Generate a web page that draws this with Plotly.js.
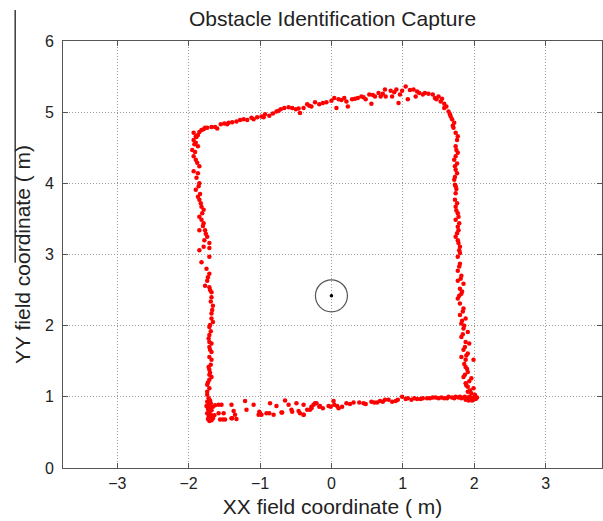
<!DOCTYPE html>
<html>
<head>
<meta charset="utf-8">
<script src="https://cdn.plot.ly/plotly-3.0.1.min.js"></script>
<style>html,body{margin:0;padding:0;background:#fff;}#chart{width:603px;height:521px;}</style>
</head>
<body>
<div id="chart"></div>
<script>
// ---- Data (metres) ----
const topX = [-1.93,-1.90,-1.87,-1.85,-1.82,-1.79,-1.77,-1.74,-1.68,-1.63,-1.55,-1.50,-1.44,-1.39,-1.33,-1.28,-1.23,-1.12,-1.09,-1.04,-0.98,-0.93,-0.87,-0.82,-0.77,-0.71,-0.66,-0.60,-0.55,-0.50,-0.44,-0.39,-0.34,-0.28,-0.23,-0.17,-0.12,-0.07,0.04,0.07,0.10,0.18,0.21,0.23,0.29,0.37,0.42,0.48,0.53,0.56,0.61,0.66,0.69,0.75,0.76,0.83,0.85,0.91,0.94,0.96,0.99,1.04,1.07,1.15,1.18,1.23,1.28,1.31,1.42,1.45,1.47,1.53,1.58,1.58,1.61,
  -1.60,-1.46,-1.18,-0.95,-0.74,-0.46,-0.31,0.00,0.14,0.33,0.45,0.58,0.72,0.88,1.10,1.20,1.36,1.50,1.55];
const topY = [4.71,4.66,4.68,4.72,4.75,4.76,4.78,4.78,4.79,4.79,4.83,4.84,4.85,4.86,4.87,4.89,4.90,4.92,4.90,4.93,4.94,4.97,4.95,4.98,5.01,5.04,5.06,5.07,5.06,5.04,4.99,5.06,5.11,5.08,5.14,5.11,5.13,5.14,5.20,5.06,5.18,5.20,5.15,5.08,5.18,5.20,5.22,5.18,5.25,5.12,5.22,5.27,5.22,5.32,5.22,5.30,5.22,5.32,5.13,5.25,5.30,5.36,5.18,5.32,5.22,5.27,5.25,5.27,5.25,5.20,5.18,5.15,5.12,5.06,5.08,
  4.77,4.83,4.89,4.93,5.02,5.05,5.09,5.16,5.17,5.19,5.21,5.24,5.26,5.28,5.31,5.29,5.26,5.22,5.19];

const rightX = [1.64,1.66,1.69,1.72,1.71,1.74,1.77,1.76,1.74,1.77,1.74,1.72,1.73,1.74,1.76,1.72,1.73,1.74,1.74,1.73,1.74,1.77,1.78,1.74,1.77,1.78,1.74,1.77,1.80,1.80,1.77,
  1.75,1.76,1.73,1.75,1.76,1.75,1.79,1.76,1.78,1.79,1.70,1.67,
  1.80,1.77,1.82,1.77,1.85,1.80,1.82,1.77,1.80,1.85,1.80,1.88,1.82,1.85,1.91,1.82,1.88,1.93,1.85,1.91,1.82,1.88,1.99,1.88,1.91,1.85,1.96,1.88,1.91,1.99,1.91,1.96,2.01,
  1.79,1.81,1.83,1.79,1.84,1.83,1.86,1.84,1.87,1.89,1.86,1.90,1.87,1.93,1.89,1.94];
const rightY = [5.01,4.97,4.90,4.85,4.78,4.71,4.66,4.61,4.52,4.43,4.38,4.33,4.24,4.19,4.14,4.05,3.98,3.96,3.86,3.77,3.67,3.58,3.53,3.49,3.39,3.34,3.25,3.20,3.11,3.02,2.97,
  4.47,4.28,4.09,3.92,3.72,3.62,3.44,3.30,3.16,3.06,4.81,4.94,
  2.87,2.77,2.70,2.63,2.59,2.52,2.45,2.38,2.31,2.24,2.15,2.10,2.03,1.96,1.91,1.84,1.77,1.75,1.66,1.61,1.56,1.52,1.52,1.42,1.35,1.28,1.26,1.19,1.14,1.12,1.07,1.05,1.03,
  2.83,2.66,2.48,2.42,2.20,2.07,2.00,1.88,1.70,1.58,1.46,1.39,1.31,1.22,1.16,1.09];

const bottomX = [1.85,1.88,1.90,1.92,1.94,1.96,1.98,2.00,2.02,2.04,1.87,1.93,1.97,2.01,
  -0.01,0.04,0.10,0.15,0.21,0.26,0.31,0.39,0.48,0.56,0.64,0.72,0.75,0.80,0.85,0.93,0.99,1.07,1.12,1.20,1.28,1.34,1.42,1.50,1.58,1.64,1.69,1.74,1.80,
  0.45,0.60,0.68,0.90,1.04,1.16,1.25,1.38,1.46,1.54,1.62,1.72,1.78,1.82,
  -1.58,-1.54,-1.40,-1.21,-1.09,-0.86,-0.77,-0.65,-0.60,-0.49,-0.39,-0.25,-0.21,-0.16,-0.04,0.03,0.08,
  -1.58,-1.51,-1.37,-1.35,-1.19,-1.00,-0.91,-0.81,-0.70,-0.56,-0.46,-0.39,-0.30,-0.28,
  -1.56,-1.49,-1.40,-1.33,-1.02,
  -0.34,-0.28,-0.23,-0.17,-0.12,-0.44,-0.39,-0.69,-0.55,-0.87,-1.01,-0.98,-1.39,-1.52,
  -1.72,-1.70,-1.74,-1.69,-1.72,-1.75,-1.70,-1.73,-1.68,-1.71,-1.74,-1.69,-1.72,-1.70,-1.73,-1.68,-1.71,-1.66,-1.64,-1.66,-1.63];
const bottomY = [0.99,0.96,0.98,0.95,0.97,0.99,0.96,0.98,0.97,0.99,1.00,1.00,0.95,1.00,
  0.86,0.89,0.84,0.86,0.91,0.90,0.92,0.92,0.90,0.93,0.92,0.93,0.96,0.96,0.93,0.96,1.00,0.98,0.96,0.97,0.98,0.98,0.99,0.98,0.98,1.00,0.99,1.00,1.00,
  0.91,0.92,0.94,0.94,0.97,0.98,0.97,0.98,0.99,0.99,0.98,0.98,0.99,0.98,
  0.89,0.89,0.89,0.94,0.89,0.91,0.87,0.95,0.89,0.91,0.89,0.89,0.91,0.87,0.87,0.94,0.87,
  0.77,0.77,0.80,0.75,0.82,0.77,0.77,0.75,0.78,0.82,0.80,0.75,0.82,0.84,
  0.68,0.68,0.70,0.69,0.75,
  0.82,0.86,0.91,0.86,0.84,0.77,0.75,0.78,0.79,0.77,0.79,0.75,0.70,0.68,
  0.98,0.95,0.93,0.91,0.89,0.87,0.85,0.83,0.81,0.79,0.77,0.75,0.73,0.71,0.69,0.67,0.66,0.70,0.74,0.86,0.88];

const leftX = [-1.95,-1.93,-1.90,-1.87,-1.93,-1.90,-1.93,-1.87,-1.85,-1.85,-1.90,-1.87,-1.85,-1.82,-1.79,-1.85,-1.82,-1.79,-1.85,-1.77,-1.74,-1.71,-1.79,-1.85,-1.71,-1.71,
  -1.91,-1.88,-1.89,-1.86,-1.84,-1.83,-1.81,-1.80,-1.76,-1.78,-1.89,-1.92,
  -1.82,-1.71,-1.74,-1.77,-1.71,-1.68,-1.68,-1.66,-1.68,-1.68,-1.66,-1.71,-1.71,-1.71,-1.68,-1.71,-1.68,-1.71,-1.68,-1.71,-1.71,-1.68,-1.71,-1.74,-1.71,-1.74,-1.74,
  -1.75,-1.73,-1.70,-1.69,-1.67,-1.70,-1.69,-1.72,-1.70,-1.69,-1.72,-1.70,-1.73];
const leftY = [4.47,4.61,4.57,4.52,4.38,4.33,4.17,4.14,4.24,4.00,3.91,3.81,3.77,3.67,3.63,3.53,3.49,3.44,3.34,3.34,3.25,3.16,3.11,3.06,3.09,2.97,
  4.44,4.29,4.08,3.96,3.85,3.72,3.58,3.40,3.29,3.20,4.65,4.55,
  2.89,2.73,2.63,2.56,2.54,2.47,2.40,2.28,2.17,2.10,2.05,1.98,1.87,1.77,1.75,1.70,1.63,1.56,1.52,1.38,1.31,1.28,1.24,1.17,1.12,1.07,1.03,
  2.80,2.68,2.50,2.34,2.22,2.01,1.92,1.82,1.66,1.45,1.42,1.34,1.20];

const robotX = [0.0];
const robotY = [2.42];

const titleText = 'Obstacle Identification Capture';
const xTitle = 'XX field coordinate ( m)';
const yTitle = 'YY field coordinate ( m)';
const tickVals = [-3,-2,-1,0,1,2,3];
const yTickVals = [0,1,2,3,4,5,6];

const capX = topX.concat(rightX, bottomX, leftX);
const capY = topY.concat(rightY, bottomY, leftY);

const font = "'Liberation Sans', Arial, Helvetica, sans-serif";

const traces = [
  {x: capX, y: capY, type: 'scatter', mode: 'markers',
   marker: {color: '#ff0000', size: 4.5, line: {width: 0}}, hoverinfo: 'x+y'},
  {x: robotX, y: robotY, type: 'scatter', mode: 'markers',
   marker: {symbol: 'circle-open', size: 32, color: '#555555', line: {width: 1.2, color: '#555555'}}},
  {x: robotX, y: robotY, type: 'scatter', mode: 'markers',
   marker: {size: 3.5, color: '#000000'}}
];

const axisCommon = {
  showline: true, linecolor: '#555', linewidth: 1, mirror: 'ticks',
  ticks: 'inside', ticklen: 5, tickcolor: '#555', tickwidth: 1,
  showgrid: true, gridcolor: '#9a9a9a', griddash: '1px,2px', gridwidth: 1,
  zeroline: false, tickfont: {family: font, size: 16, color: '#222'}
};

const layout = {
  width: 603, height: 521,
  margin: {l: 63, r: 1, t: 41, b: 53, pad: 0},
  paper_bgcolor: '#ffffff', plot_bgcolor: '#ffffff',
  showlegend: false,
  font: {family: font, color: '#222'},
  title: {text: titleText, font: {family: font, size: 21, color: '#222'},
          x: 0.5, xref: 'paper', xanchor: 'center', y: 0.964, yref: 'container', yanchor: 'middle'},
  xaxis: Object.assign({}, axisCommon, {
    range: [-3.76, 3.79], tickvals: tickVals, ticklabelstandoff: 1,
    title: {text: xTitle, font: {family: font, size: 21, color: '#222'}, standoff: 8}
  }),
  yaxis: Object.assign({}, axisCommon, {
    range: [0, 6], tickvals: yTickVals, ticklabelstandoff: 5,
    title: {text: yTitle, font: {family: font, size: 21, color: '#222'}, standoff: 8}
  }),
  shapes: [
    {type: 'line', xref: 'paper', yref: 'paper', x0: -0.0887, x1: -0.0887, y0: 1.0726, y1: 0.4805,
     line: {color: '#3a3a3a', width: 1.5}, layer: 'above'}
  ]
};

Plotly.newPlot('chart', traces, layout, {displayModeBar: false, staticPlot: true});
</script>
</body>
</html>
